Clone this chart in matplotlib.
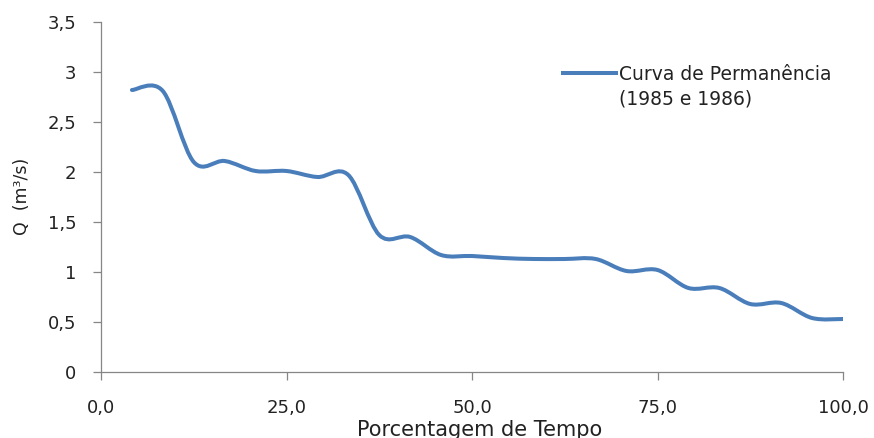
import matplotlib
matplotlib.use("Agg")
import numpy as np
import matplotlib.pyplot as plt
from matplotlib.path import Path
from matplotlib.patches import PathPatch
from matplotlib.lines import Line2D
from matplotlib.ticker import FuncFormatter, MultipleLocator

# Data (percent of time, discharge m3/s)
pct = [4.17, 8.33, 12.5, 16.67, 20.83, 25.0, 29.17, 33.33, 37.5, 41.67, 45.83, 50.0,
       54.17, 58.33, 62.5, 66.67, 70.83, 75.0, 79.17, 83.33, 87.5, 91.67, 95.83, 100.0]
flow = [2.82, 2.81, 2.10, 2.11, 2.01, 2.01, 1.95, 1.97, 1.37, 1.35, 1.17, 1.16,
        1.14, 1.13, 1.13, 1.13, 1.01, 1.02, 0.84, 0.84, 0.68, 0.69, 0.54, 0.53]
series_label = "Curva de Permanência\n(1985 e 1986)"
x_label = "Porcentagem de Tempo"
y_label = "Q  (m³/s)"

color = "#4a7ebb"
txt = "#222222"
plt.rcParams['font.family'] = ['DejaVu Sans']

fig = plt.figure(figsize=(8.74, 4.38), dpi=100)
ax = fig.add_axes([101/874, 66/438, 742/874, 350/438])

# Smoothed line (Excel-style Catmull-Rom Bezier through the data points)
n = len(pct)
verts = [(pct[0], flow[0])]
codes = [Path.MOVETO]
for i in range(n - 1):
    p0 = (pct[max(i - 1, 0)], flow[max(i - 1, 0)])
    p1 = (pct[i], flow[i])
    p2 = (pct[i + 1], flow[i + 1])
    p3 = (pct[min(i + 2, n - 1)], flow[min(i + 2, n - 1)])
    c1 = (p1[0] + (p2[0] - p0[0]) / 6, p1[1] + (p2[1] - p0[1]) / 6)
    c2 = (p2[0] - (p3[0] - p1[0]) / 6, p2[1] - (p3[1] - p1[1]) / 6)
    verts += [c1, c2, p2]
    codes += [Path.CURVE4] * 3
patch = PathPatch(Path(verts, codes), facecolor="none", edgecolor=color,
                  lw=2.9, capstyle="round", joinstyle="round")
ax.add_patch(patch)

ax.set_xlim(0, 100)
ax.set_ylim(0, 3.5)
ax.xaxis.set_major_locator(MultipleLocator(25))
ax.yaxis.set_major_locator(MultipleLocator(0.5))
ax.xaxis.set_major_formatter(FuncFormatter(lambda v, p: f"{v:.1f}".replace(".", ",")))
ax.yaxis.set_major_formatter(FuncFormatter(lambda v, p: (f"{v:g}").replace(".", ",")))

for s in ["top", "right"]:
    ax.spines[s].set_visible(False)
for s in ["left", "bottom"]:
    ax.spines[s].set_color("#868686")
    ax.spines[s].set_linewidth(0.9)
ax.tick_params(axis="both", direction="out", length=5.5, width=0.9, color="#868686",
               labelsize=13, labelcolor=txt)
ax.tick_params(axis="x", pad=14.2)
ax.tick_params(axis="y", pad=12.4)

ax.set_xlabel(x_label, fontsize=15, color=txt)
ax.xaxis.set_label_coords((479.5 - 101) / 742, (372 - 419.5) / 350)
ax.set_ylabel(y_label, fontsize=12.5, color=txt)
ax.yaxis.set_label_coords((31 - 101) / 742, (372 - 196) / 350)

handle = Line2D([], [], color=color, lw=2.9)
leg = ax.legend([handle], [series_label], loc="upper left",
                bbox_to_anchor=(563 / 874, 1 - 65 / 438), bbox_transform=fig.transFigure,
                frameon=False, fontsize=13.5, handlelength=2.85, handletextpad=0.12,
                borderpad=0, borderaxespad=0, labelcolor=txt)
for t in leg.get_texts():
    t.set_linespacing(1.37)
# align the key with the first line of the label
for ln in leg.get_lines():
    ln.set_ydata(np.asarray(ln.get_ydata()) + 10.8)

fig.savefig("out.png", dpi=100)
